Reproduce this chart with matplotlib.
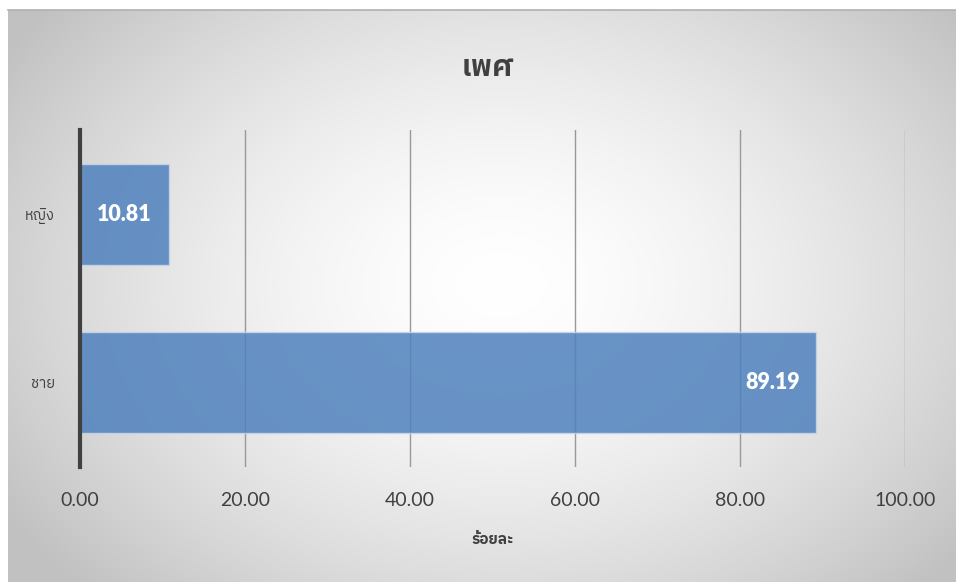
import numpy as np
import matplotlib
matplotlib.use("Agg")
import matplotlib.pyplot as plt
from matplotlib import font_manager
from matplotlib.ft2font import FT2Font

categories = ["ชาย", "หญิง"]
values = [89.19, 10.81]
xticks = [0, 20, 40, 60, 80, 100]
title = "เพศ"
xlabel = "ร้อยละ"

# find a font with Thai glyphs
thai_family = None
for fe in font_manager.fontManager.ttflist:
    try:
        f = FT2Font(fe.fname)
        if f.get_char_index(ord("ห")) and f.get_char_index(ord("ญ")):
            thai_family = fe.name
            if "Thai" in fe.name or "Tahoma" in fe.name:
                break
    except Exception:
        pass
fam = [thai_family, "DejaVu Sans"] if thai_family else ["DejaVu Sans"]
num_fam = ["Lato", "DejaVu Sans"]

W, H = 956, 582
fig = plt.figure(figsize=(W / 100, H / 100), dpi=100)
fig.patch.set_facecolor("white")

# background gradient panel
bx0, by0, bx1, by1 = 8, 10, 956, 582
bg = fig.add_axes([bx0 / W, 1 - by1 / H, (bx1 - bx0) / W, (by1 - by0) / H])
nx, ny = 400, 240
xx, yy = np.meshgrid(np.linspace(0, 1, nx), np.linspace(0, 1, ny))
cx, cy = 0.52, 0.52
r = np.sqrt(((xx - cx) / 0.62) ** 2 + ((yy - cy) / 0.75) ** 2)
r = np.clip(r, 0, 1)
val = 1.0 - 0.24 * r ** 1.6
img = np.dstack([val, val, val])
bg.imshow(img, aspect="auto", extent=[0, 1, 0, 1], origin="lower")
bg.set_xticks([]); bg.set_yticks([])
for s in bg.spines.values():
    s.set_visible(False)
bg.plot([0, 1], [1, 1], color="#b0b0b0", lw=1.2, transform=bg.transAxes, clip_on=False)
bg.set_zorder(0)

# main axes
ax_l, ax_r, ax_t, ax_b = 80, 905, 130, 467
ax = fig.add_axes([ax_l / W, 1 - ax_b / H, (ax_r - ax_l) / W, (ax_b - ax_t) / H])
ax.set_zorder(1)
ax.patch.set_alpha(0)
y = np.arange(len(categories))
bars = ax.barh(y, values, height=0.6, color="#4f81bd", alpha=0.85,
               edgecolor="#c8d6ea", linewidth=1, zorder=3)
ax.set_xlim(0, 100)
ax.set_ylim(-0.5, 1.5)
ax.set_xticks(xticks)
ax.set_xticklabels([f"{t:.2f}" for t in xticks], family=num_fam, fontsize=14, color="#404040")
ax.set_yticks(y)
ax.set_yticklabels(categories, family=fam, fontsize=10.5, color="#404040")
ax.tick_params(axis="both", length=0)
ax.tick_params(axis="x", pad=18)
ax.tick_params(axis="y", pad=18)
ax.grid(axis="x", color="#999999", lw=1, zorder=4)
for s in ["top", "right", "bottom"]:
    ax.spines[s].set_visible(False)
ax.spines["left"].set_color("#404040")
ax.spines["left"].set_linewidth(3)
ax.spines["left"].set_zorder(5)

for b, v in zip(bars, values):
    ax.text(v - 5.2 if v > 50 else v / 2, b.get_y() + b.get_height() / 2, f"{v:.2f}",
            ha="center", va="center", color="white", fontsize=15.5, fontweight="heavy",
            family=num_fam, zorder=6)

ax.set_xlabel(xlabel, family=fam, fontsize=11, fontweight="bold", color="#404040", labelpad=17)
fig.text(0.51, 1 - 68 / H, title, ha="center", va="center", family=fam,
         fontsize=21, fontweight="bold", color="#404040")

fig.savefig("out.png", dpi=100)
